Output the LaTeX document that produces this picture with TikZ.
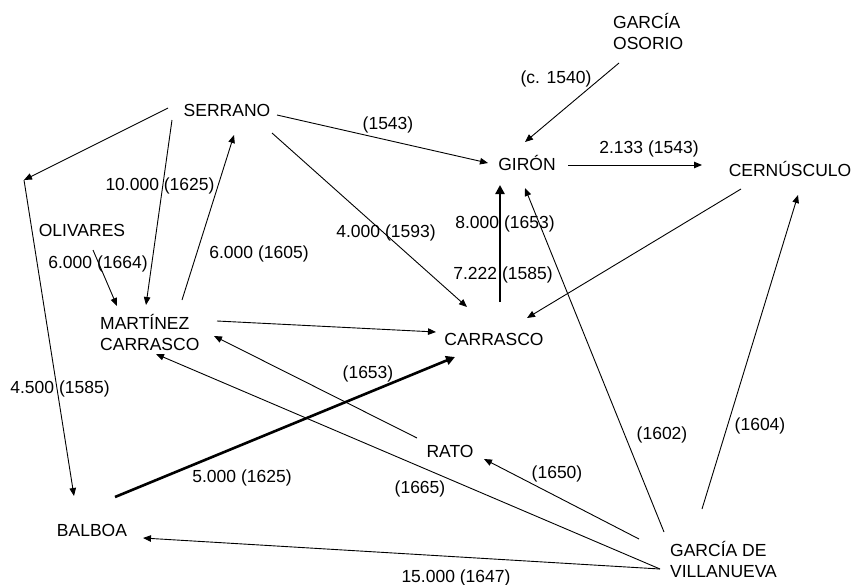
\documentclass[tikz,border=0pt]{standalone}
\usepackage{fontspec}
\setmainfont{Liberation Sans}
\usetikzlibrary{arrows.meta,calc}
\begin{document}
\begin{tikzpicture}[x=1pt,y=-1pt,
  lbl/.style={inner sep=0pt,anchor=base,font=\fontsize{17.5}{21}\selectfont},
  mlbl/.style={inner sep=0pt,anchor=west,align=left,font=\fontsize{17.5}{21}\selectfont},
  arr/.style={line width=0.9pt,-{Triangle[length=8pt,width=6.5pt]}},
  thickarr/.style={line width=2.6pt,-{Triangle[length=9pt,width=9pt]}}]
\useasboundingbox (0,0) rectangle (854,584);
% nodes
\node[mlbl] (gos) at (613,31) {GARCÍA\\OSORIO};
\node[lbl] (ser) at (227,116) {SERRANO};
\node[lbl] (gir) at (527,170) {GIRÓN};
\node[lbl] (cer) at (790,176) {CERNÚSCULO};
\node[lbl] (oli) at (82,236) {OLIVARES};
\node[mlbl] (mar) at (100,332) {MARTÍNEZ\\CARRASCO};
\node[lbl] (car) at (494,345) {CARRASCO};
\node[lbl] (rat) at (450,457) {RATO};
\node[lbl] (bal) at (92,536) {BALBOA};
\node[mlbl] (gdv) at (670,559) {GARCÍA DE\\VILLANUEVA};
\coordinate (k) at (24,180);
% edge labels
\node[lbl] (l1) at (60,393) {4.500 (1585)};
\node[lbl] (l2) at (160,190) {10.000 (1625)};
\node[lbl] (l3) at (98,268) {6.000 (1664)};
\node[lbl] (l4) at (259,258) {6.000 (1605)};
\node[lbl] (l5) at (388,129) {(1543)};
\node[lbl] (l6) at (386,237) {4.000 (1593)};
\node[lbl] (l7) at (556,83) {(c. 1540)};
\node[lbl] (l8) at (649,153) {2.133 (1543)};
\node[lbl] (l9) at (505,228) {8.000 (1653)};
\node[lbl] (l10) at (503,279) {7.222 (1585)};
\node[lbl] (l11) at (242,482) {5.000 (1625)};
\node[lbl] (l12) at (368,378) {(1653)};
\node[lbl] (l13) at (420,493) {(1665)};
\node[lbl] (l14) at (456,582) {15.000 (1647)};
\node[lbl] (l15) at (557,478) {(1650)};
\node[lbl] (l16) at (662,439) {(1602)};
\node[lbl] (l17) at (760,430) {(1604)};
% edges
\draw[arr] ($(ser.base)+(-59,-8)$) -- (k);
\draw[arr] (k) -- ($(bal.base)+(-18,-40)$);
\draw[arr] ($(ser.base)+(-55,4)$) -- ($(mar.west)+(46,-27)$);
\draw[arr] ($(oli.base)+(11,14)$) -- ($(mar.west)+(17,-26)$);
\draw[arr] ($(mar.west)+(82,-32)$) -- ($(ser.base)+(7,19)$);
\draw[arr] ($(ser.base)+(50,-1)$) -- ($(gir.base)+(-39,-7)$);
\draw[arr] ($(ser.base)+(45,17)$) -- ($(car.base)+(-27,-38)$);
\draw[arr] ($(gos.west)+(6,32)$) -- ($(gir.base)+(-2,-28)$);
\draw[arr] ($(gir.base)+(41,-5)$) -- ($(cer.base)+(-88,-11)$);
\draw[arr] ($(cer.base)+(-49,13)$) -- ($(car.base)+(33,-27)$);
\draw[thickarr] ($(car.base)+(6,-43)$) -- ($(gir.base)+(-27,15)$);
\draw[arr] ($(mar.west)+(117,-11)$) -- ($(car.base)+(-58,-13)$);
\draw[thickarr] ($(bal.base)+(23,-39)$) -- ($(car.base)+(-39,12)$);
\draw[arr] ($(rat.base)+(-33,-19)$) -- ($(mar.west)+(114,4)$);
\draw[arr] ($(gdv.west)+(-10,10)$) -- ($(mar.west)+(56,22)$);
\draw[arr] ($(gdv.west)+(-10,10)$) -- ($(bal.base)+(51,2)$);
\draw[arr] ($(gdv.west)+(-31,-20)$) -- ($(rat.base)+(34,2)$);
\draw[arr] ($(gdv.west)+(-6,-27)$) -- ($(gir.base)+(-2,18)$);
\draw[arr] ($(gdv.west)+(32,-50)$) -- ($(cer.base)+(8,19)$);
\end{tikzpicture}
\end{document}
